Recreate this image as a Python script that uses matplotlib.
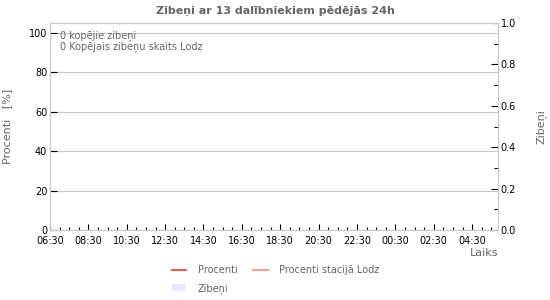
import numpy as np
import matplotlib
matplotlib.use("Agg")
import matplotlib.pyplot as plt
from matplotlib.patches import Patch
from matplotlib.lines import Line2D

# x axis: hours since 06:30, last 24h window
tick_labels = ["06:30", "08:30", "10:30", "12:30", "14:30", "16:30", "18:30",
               "20:30", "22:30", "00:30", "02:30", "04:30"]
x_span = 23.35
# no data in the period
procenti = []
procenti_lodz = []
zibeni = []
count_total = 0
count_lodz = 0

plt.rcParams["font.family"] = "DejaVu Sans"
grey = "#666666"
frame = "#c8c8c8"

fig = plt.figure(figsize=(5.5, 3.0), dpi=100)
ax = fig.add_axes([50 / 550, 70 / 300, 448 / 550, 207 / 300])
ax2 = ax.twinx()

ax.plot(procenti, color="#e06060")
ax.plot(procenti_lodz, color="#ff9c9c")
ax.set_xlim(0, x_span)
ax.set_ylim(0, 105)
ax2.set_ylim(0, 1.0)

ax.set_xticks(np.arange(len(tick_labels)) * 2)
ax.set_xticklabels(tick_labels)
ax.set_xticks(np.arange(0, x_span, 0.5), minor=True)
ax.set_yticks([0, 20, 40, 60, 80, 100])
ax2.set_yticks([0, 0.2, 0.4, 0.6, 0.8, 1.0])
ax2.set_yticks([0.1, 0.3, 0.5, 0.7, 0.9], minor=True)
ax2.yaxis.set_major_formatter(lambda v, p: "%.1f" % v)

ax.grid(axis="y", color=frame, linewidth=0.8)
ax.set_axisbelow(True)
for a in (ax, ax2):
    for s in a.spines.values():
        s.set_color(frame)
        s.set_linewidth(0.8)
    a.tick_params(which="both", direction="in", colors="black", labelsize=7,
                  width=0.8, pad=2)
    a.tick_params(which="major", length=5)
    a.tick_params(which="minor", length=3)
ax.tick_params(axis="x", which="major", length=4, pad=4)
ax.tick_params(axis="x", which="minor", length=2)

ax.set_ylabel("Procenti   [%]", color=grey, fontsize=8, labelpad=12)
ax2.set_ylabel("Zibeņi", color=grey, fontsize=8, labelpad=14)
ax.text(1.0, -0.085, "Laiks", transform=ax.transAxes, ha="right", va="top",
        color=grey, fontsize=8)

ax.text(0.022, 0.965, "%d kopējie zibeņi\n%d Kopējais zibeņu skaits Lodz"
        % (count_total, count_lodz), transform=ax.transAxes, ha="left",
        va="top", color=grey, fontsize=7, linespacing=1.0)

fig.text(0.5, 0.965, "Zibeņi ar 13 dalībniekiem pēdējās 24h", ha="center",
         va="center", color=grey, fontsize=8, fontweight="bold")

# column-major fill: col 1 = Procenti, Zibeni; col 2 = Procenti Lodz
handles = [Line2D([], [], color="#e06060", lw=1.5),
           Patch(facecolor="#e8e8fc", edgecolor="none"),
           Line2D([], [], color="#ff9c9c", lw=1.5)]
labels = ["Procenti", "Zibeņi", "Procenti stacijā Lodz"]
fig.legend(handles, labels, loc="upper left", bbox_to_anchor=(0.305, 0.128),
           ncol=2, frameon=False, fontsize=7, labelcolor=grey,
           handlelength=1.5, columnspacing=1.6, handletextpad=1.2,
           borderaxespad=0, labelspacing=0.75)

fig.savefig("out.png", dpi=100)
